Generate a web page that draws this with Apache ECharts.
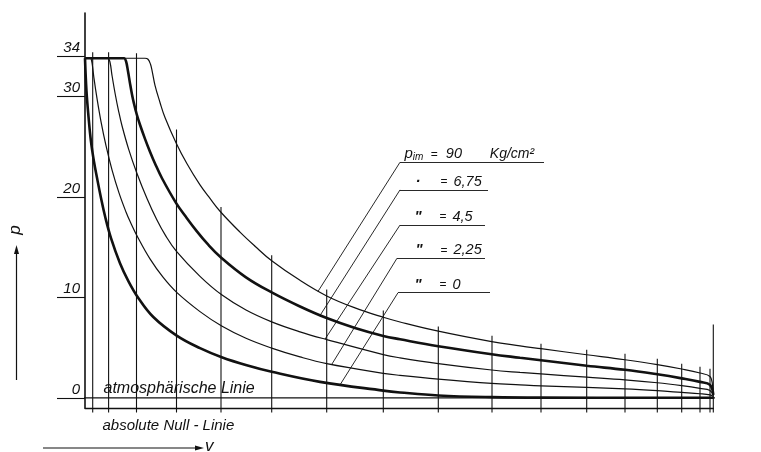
<!DOCTYPE html>
<html>
<head>
<meta charset="utf-8">
<script src="https://cdn.jsdelivr.net/npm/echarts@6.0.0/dist/echarts.min.js"></script>
<style>
html,body{margin:0;padding:0;background:#ffffff;}
#chart{width:761px;height:452px;}
</style>
</head>
<body>
<div id="chart"></div>
<script>
// ---------------- data ----------------
// pressure axis tick values (kg/cm^2 above atmosphere)
const pTickValues = [0, 10, 20, 30, 34];
// mean indicated pressure labels of the five expansion lines
const pimLabels = ['90', '6,75', '4,5', '2,25', '0'];

// expansion curves [volume V, pressure p]
const curvePim90 = [[0,33.8],[5.7,33.8],[6.0,33.8],[6.3,33.7],[6.55,33.2],[6.7,32.6],[7.0,31.1],[7.5,29.4],[8.0,27.9],[9.1,25.4],[10.2,23.3],[11.5,21.2],[12.5,19.85],[13.57,18.5],[15.5,16.5],[17.0,15.1],[18.67,13.65],[21.5,11.7],[24.17,10.15],[27.0,8.96],[29.83,8.03],[31.5,7.56],[35.33,6.64],[40.67,5.6],[43.5,5.18],[45.6,4.9],[50.17,4.3],[54.0,3.8],[57.23,3.32],[59.67,2.88],[61.5,2.48],[62.5,2.13],[62.75,1.3],[62.83,0.3]];
const curvePim675 = [[0,33.8],[3.6,33.8],[3.9,33.8],[4.1,33.5],[4.3,32.5],[4.5,31.3],[4.7,30.2],[4.9,29.28],[5.15,28.3],[5.5,27.18],[6.0,25.78],[6.5,24.5],[7.0,23.33],[7.7,21.86],[9.1,19.41],[10.03,18.1],[11.17,16.6],[12.3,15.27],[13.57,14.0],[16.1,12.0],[18.67,10.5],[21.5,9.1],[24.17,7.95],[27.0,6.96],[29.83,6.17],[31.5,5.84],[35.33,5.15],[40.67,4.35],[43.5,4.0],[45.6,3.75],[50.17,3.2],[54.0,2.8],[57.23,2.35],[59.67,1.95],[61.5,1.6],[62.5,1.3],[62.83,0.3]];
const curvePim45 = [[0,33.8],[2.0,33.8],[2.3,33.8],[2.5,33.4],[2.7,32.1],[3.03,30.19],[3.35,28.59],[3.7,27.08],[4.37,24.73],[5.17,22.41],[6.2,19.84],[7.17,17.75],[8.03,16.2],[9.17,14.55],[11.5,12.1],[13.67,10.26],[16.1,8.75],[18.67,7.57],[21.5,6.58],[24.17,5.81],[29.83,4.31],[31.5,3.99],[35.33,3.42],[40.67,2.78],[43.5,2.54],[45.6,2.39],[50.17,2.07],[54.0,1.8],[57.23,1.51],[59.67,1.22],[61.5,0.95],[62.5,0.75],[62.83,0.25]];
const curvePim225 = [[0,33.8],[0.35,33.8],[0.55,33.8],[0.65,33.6],[0.75,33.0],[0.9,31.8],[1.2,29.8],[1.6,27.5],[2.1,25.1],[2.7,22.7],[3.4,20.4],[4.1,18.5],[4.5,17.58],[5.33,15.88],[6.5,13.83],[7.8,12.01],[9.17,10.5],[11.5,8.59],[13.67,7.16],[16.1,5.94],[18.67,4.96],[21.5,4.08],[24.17,3.41],[29.83,2.45],[31.5,2.25],[35.33,1.88],[40.67,1.45],[43.5,1.3],[45.6,1.2],[50.17,1.05],[54.0,0.9],[57.23,0.72],[59.67,0.55],[61.5,0.42],[62.5,0.3],[62.83,0.15]];
const curvePim0 = [[0,33.8],[0.15,30.5],[0.35,28.0],[0.6,25.5],[0.9,23.5],[1.2,21.9],[1.6,19.9],[2.0,18.1],[2.6,15.9],[3.5,13.4],[4.3,11.7],[5.33,9.95],[6.83,8.05],[9.17,6.2],[11.5,4.95],[13.67,4.05],[16.17,3.25],[18.67,2.6],[23.5,1.6],[29.83,0.73],[31.5,0.55],[35.33,0.25],[40.67,0.08],[45.6,0.03],[62.83,0.02]];

// piston-position ordinates: volume and upper end (pressure)
const stationV   = [0.77, 2.36, 5.15, 9.15, 13.6, 18.67, 24.17, 29.83, 35.33, 40.7, 45.6, 50.17, 54.0, 57.23, 59.67, 61.5, 62.5, 62.83];
const stationTop = [34.4, 34.4, 34.3, 26.7, 19.0, 14.2, 10.8, 8.7, 7.1, 6.2, 5.4, 4.8, 4.4, 3.9, 3.4, 3.1, 2.9, 7.3];

// ---------------- layout / annotation settings ----------------
const INK = '#111111';
const FONT = '"Liberation Sans", Arial, sans-serif';
const P_ABS_NULL = -1;        // absolute null line
const STATION_FOOT = -1.45;   // ordinates extend a little below the null line
const ATM_FROM = -2.5, ATM_TO = 67.6;

// leader lines and label underlines (data coordinates)
const legendAnchors = [
  {curve:[23.3,10.6],  start:[31.5,23.45], end:[45.9,23.45], dx:5},
  {curve:[23.5,8.2],   start:[31.5,20.7],  end:[40.3,20.7],  dx:16},
  {curve:[24.0,5.85],  start:[31.5,17.2],  end:[40.0,17.2],  dx:15},
  {curve:[24.67,3.33], start:[31.2,13.9],  end:[40.0,13.9],  dx:19},
  {curve:[25.5,1.3],   start:[31.3,10.47], end:[40.5,10.47], dx:17}
];
const curves = [curvePim90, curvePim675, curvePim45, curvePim225, curvePim0];
const thick = [false, true, false, false, true];
const dittos = ['', '\u00B7', '"', '"', '"'];

const richStyles = {
  p: {fontSize:15, fontStyle:'italic', fontFamily:FONT, color:INK},
  s: {fontSize:10, fontStyle:'italic', fontFamily:FONT, color:INK, width:18, verticalAlign:'bottom', lineHeight:12},
  d: {fontSize:15, fontWeight:'bold', fontStyle:'italic', fontFamily:FONT, color:INK, width:25},
  e: {fontSize:12, fontFamily:FONT, color:INK, width:13},
  e1:{fontSize:12, fontFamily:FONT, color:INK, width:15},
  n: {fontSize:14.5, fontStyle:'italic', fontFamily:FONT, color:INK},
  n1:{fontSize:14.5, fontStyle:'italic', fontFamily:FONT, color:INK, width:44},
  u: {fontSize:14, fontStyle:'italic', fontFamily:FONT, color:INK}
};

function legendText(i) {
  if (i === 0) return '{p|p}{s|im}{e1|=}{n1|' + pimLabels[0] + '}{u|Kg/cm\u00B2}';
  return '{d|' + dittos[i] + '}{e|=}{n|' + pimLabels[i] + '}';
}

const curveSeries = curves.map((data, i) => {
  const a = legendAnchors[i];
  return {
    type: 'line',
    name: 'pim ' + pimLabels[i],
    data: data,
    showSymbol: false,
    smooth: 0.4,
    clip: false,
    silent: true,
    z: 5,
    lineStyle: {color: INK, width: thick[i] ? 2.6 : 1.2},
    markLine: {
      silent: true,
      symbol: ['none', 'none'],
      label: {show: false},
      lineStyle: {color: INK, width: 0.9, type: 'solid'},
      data: [
        [{coord: a.curve}, {coord: a.start}],
        [{coord: a.start}, {coord: a.end}]
      ]
    },
    markPoint: {
      silent: true,
      symbol: 'rect',
      symbolSize: 1,
      itemStyle: {color: 'rgba(0,0,0,0)'},
      label: {
        show: true,
        position: [a.dx, 0],
        align: 'left',
        verticalAlign: 'bottom',
        formatter: legendText(i),
        rich: richStyles
      },
      data: [{coord: a.start}]
    }
  };
});

const chart = echarts.init(document.getElementById('chart'), null, {renderer: 'canvas'});
chart.setOption({
  animation: false,
  backgroundColor: '#ffffff',
  grid: {left: 85, top: 13, width: 628.3, height: 395, outerBoundsMode: 'none', containLabel: false},
  xAxis: {
    type: 'value', min: 0, max: 62.83,
    axisLine: {show: true, onZero: false, lineStyle: {color: INK, width: 1.3}},
    axisTick: {show: false}, axisLabel: {show: false}, splitLine: {show: false}
  },
  yAxis: {
    type: 'value', min: -1, max: 38.3,
    axisLine: {show: true, onZero: false, lineStyle: {color: INK, width: 1.6}},
    axisTick: {show: true, customValues: pTickValues, length: 28, lineStyle: {color: INK, width: 1.1}},
    axisLabel: {
      show: true, customValues: pTickValues, margin: 5,
      color: INK, fontSize: 15, fontStyle: 'italic', fontFamily: FONT,
      verticalAlign: 'bottom', padding: [0, 0, 1, 0]
    },
    splitLine: {show: false}
  },
  series: [
    {
      type: 'custom',
      name: 'ordinates',
      clip: false,
      silent: true,
      z: 2,
      data: stationV.map((v, i) => [v, stationTop[i]]),
      renderItem: function (params, api) {
        const v = api.value(0);
        const a = api.coord([v, STATION_FOOT]);
        const b = api.coord([v, api.value(1)]);
        return {type: 'line', shape: {x1: a[0], y1: a[1], x2: b[0], y2: b[1]},
                style: {stroke: INK, lineWidth: 1.1}};
      }
    },
    {
      type: 'line',
      name: 'atmosphärische Linie',
      data: [[ATM_FROM, 0], [ATM_TO, 0]],
      showSymbol: false, clip: false, silent: true, z: 3,
      lineStyle: {color: INK, width: 1.3},
      markPoint: {
        silent: true, symbol: 'rect', symbolSize: 1,
        itemStyle: {color: 'rgba(0,0,0,0)'},
        data: [
          {coord: [1.9, 0], label: {show: true, position: [0, -1], align: 'left', verticalAlign: 'bottom',
            formatter: 'atmosphärische Linie', color: INK, fontSize: 16, fontStyle: 'italic', fontFamily: FONT}},
          {coord: [1.8, P_ABS_NULL], label: {show: true, position: [0, 11], align: 'left', verticalAlign: 'top',
            formatter: 'absolute Null - Linie', color: INK, fontSize: 15, fontStyle: 'italic', fontFamily: FONT}}
        ]
      },
      markLine: {
        silent: true,
        symbol: ['none', 'arrow'],
        symbolSize: [6, 9],
        label: {show: false},
        lineStyle: {color: INK, width: 1, type: 'solid'},
        data: [[{coord: [17.8, P_ABS_NULL]}, {coord: [15.4, -2.6]}]]
      }
    }
  ].concat(curveSeries),
  graphic: [
    {type: 'line', shape: {x1: 16.5, y1: 380, x2: 16.5, y2: 252}, style: {stroke: INK, lineWidth: 1.2}},
    {type: 'polygon', shape: {points: [[16.5, 245], [14, 254], [19, 254]]}, style: {fill: INK}},
    {type: 'text', x: 15, y: 230, rotation: Math.PI / 2,
     style: {text: 'p', font: 'italic 17px "Liberation Sans"', fill: INK, align: 'center', verticalAlign: 'middle',
             textAlign: 'center', textVerticalAlign: 'middle'}},
    {type: 'line', shape: {x1: 43, y1: 448, x2: 196, y2: 448}, style: {stroke: INK, lineWidth: 1.2}},
    {type: 'polygon', shape: {points: [[204, 448], [195, 445.5], [195, 450.5]]}, style: {fill: INK}},
    {type: 'text', x: 205, y: 455,
     style: {text: 'v', font: 'italic 17px "Liberation Sans"', fill: INK, align: 'left', verticalAlign: 'bottom',
             textAlign: 'left', textVerticalAlign: 'bottom'}}
  ]
});
</script>
</body>
</html>
